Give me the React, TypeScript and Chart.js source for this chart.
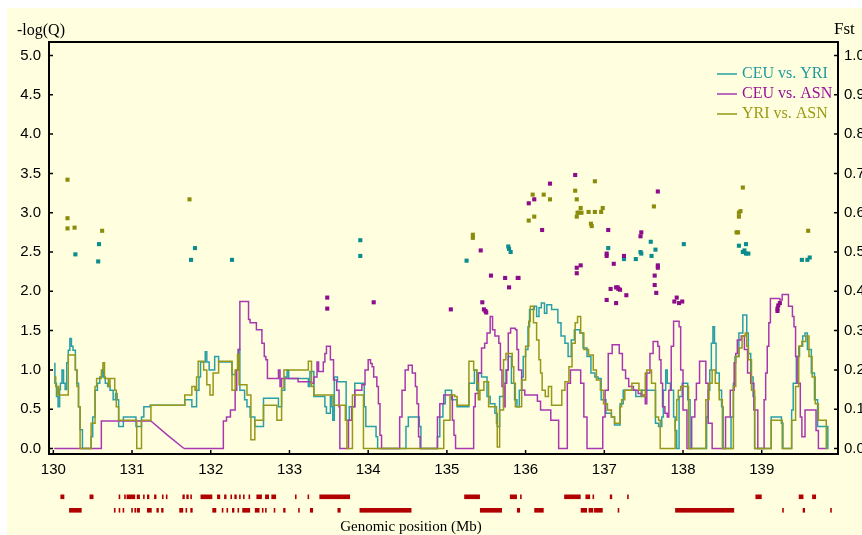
import { useEffect, useRef } from "react";
import { Chart, registerables } from "chart.js";
Chart.register(...registerables);

type P = [number, number | null];

const xTicks = [130, 131, 132, 133, 134, 135, 136, 137, 138, 139];
const leftTicks = [0, 0.5, 1, 1.5, 2, 2.5, 3, 3.5, 4, 4.5, 5];
const rightTicks = [0, 0.1, 0.2, 0.3, 0.4, 0.5, 0.6, 0.7, 0.8, 0.9, 1.0];

const seriesNames = ["CEU vs. YRI", "CEU vs. ASN", "YRI vs. ASN"];

// -log(Q) step lines
const ceuYri: P[] = [
  [130.01,1.08],[130.02,0.83],[130.04,0.66],[130.06,0.53],[130.08,0.75],[130.09,0.83],[130.11,1.0],[130.13,0.83],[130.15,0.75],[130.17,1.09],[130.19,1.25],[130.21,1.40],[130.23,1.30],[130.25,1.25],[130.28,1.0],[130.30,0.83],[130.32,0.53],[130.34,0.24],[130.37,0],
  [130.48,0.15],[130.50,0.40],[130.53,0.74],[130.56,0.83],[130.59,0.91],[130.62,1.0],[130.64,0.91],[130.66,0.83],[130.69,0.79],[130.72,0.74],[130.76,0.62],[130.79,0.70],[130.81,0.62],[130.83,0.28],[130.89,0.40],[131.05,0.28],[131.12,0.40],[131.15,0.53],[131.23,0.55],[131.67,0.62],[131.76,0.53],[131.82,0.74],[131.85,0.91],[131.87,1.10],[131.93,1.23],[131.95,1.10],[131.98,1.0],[132.05,1.17],[132.10,1.10],[132.27,0.94],[132.32,1.0],[132.35,1.26],[132.37,0.74],[132.43,0.62],
  [132.46,0.53],[132.50,0.40],[132.56,0.28],[132.67,0.64],[132.86,0.53],[132.90,0.74],[132.94,0.91],[132.97,1.0],[132.99,0.89],[133.24,0.79],[133.26,0.98],[133.31,0.66],[133.45,0.53],[133.47,0.45],[133.52,0.66],[133.54,0.53],[133.55,0.36],[133.57,0.91],[133.61,0.85],[133.72,0.36],[133.76,0.53],[133.83,0.83],[133.95,0.53],[133.97,0.28],[134.10,0.15],[134.12,0],[134.48,0.28],[134.51,0.40],[134.65,0.28],[134.67,0],[134.88,0.15],[134.91,0.40],[134.95,0.57],
  [134.98,0.74],[135.06,0.62],[135.13,0.53],[135.28,0.83],[135.35,1.0],[135.38,0.74],[135.40,0.96],[135.44,0.91],[135.51,0.66],[135.55,0.57],[135.61,0.45],[135.64,0.28],[135.67,0.66],[135.72,0.83],[135.75,1.0],[135.78,1.17],[135.82,0.83],[135.86,0.62],[135.89,0.53],[135.92,0.74],[135.95,0.91],[135.97,1.17],[136.0,1.26],[136.03,1.55],[136.05,1.77],[136.11,1.81],[136.14,1.68],[136.17,1.79],[136.20,1.85],[136.24,1.72],[136.27,1.83],[136.33,1.77],[136.41,1.60],[136.45,1.43],[136.50,1.34],[136.54,1.17],[136.58,1.38],[136.62,1.51],[136.69,1.47],[136.73,1.28],[136.78,1.17],[136.83,0.96],[136.88,0.91],[136.92,0.89],[136.96,0.62],[137.02,0.45],[137.09,0.40],[137.13,0.30],[137.20,0.57],[137.24,0.74],[137.40,0.66],[137.47,0.74],
  [137.65,0.32],[137.69,0.28],[137.73,0.40],[137.75,0.74],[137.78,1.0],[137.80,0.83],[137.84,0.74],[137.88,0.40],[137.90,0.23],[137.92,0],[137.95,0.66],[137.99,0.83],[138.06,0.62],[138.09,0],[138.30,0.40],[138.32,0.74],[138.34,1.0],[138.36,1.34],[138.38,1.55],[138.40,1.34],[138.42,0.96],[138.46,0.74],[138.49,0.53],[138.51,0],[138.61,0.40],[138.64,0.83],[138.66,1.17],[138.71,1.47],[138.76,1.70],[138.81,1.47],[138.83,1.21],[138.86,0.91],[138.89,0.66],[138.91,0],[139.12,0.40],[139.25,0.32],[139.27,0],[139.38,0.49],[139.40,0.83],[139.44,1.17],[139.48,1.30],[139.52,1.43],[139.55,1.47],[139.58,1.26],[139.63,0.96],[139.67,0.62],[139.71,0.28],[139.84,0],[139.85,0],
];

// CEU vs. ASN: stepped part (null = break where the straight ramp takes over)
const ceuAsn: P[] = [
  [130.01,0],[130.61,0.35],[131.24,0.35],[131.24,null],[131.66,0],
  [132.16,0.35],[132.20,0.40],[132.25,0.49],[132.31,0.74],[132.33,1.0],[132.35,1.26],[132.37,1.87],[132.48,1.64],[132.50,1.60],[132.58,1.51],[132.65,1.34],[132.68,1.17],[132.70,1.13],[132.72,0.89],[132.86,1.0],[132.88,0.79],[132.90,0.89],[133.11,0.85],[133.28,0.83],[133.31,0.91],[133.35,1.10],[133.37,0.98],[133.43,1.10],[133.45,1.21],[133.47,1.30],[133.52,1.13],[133.56,0.87],[133.60,0.74],[133.63,0.53],[133.64,0],
  [133.75,0.36],[133.79,0.53],[133.83,0.74],[133.92,0.81],[133.96,1.0],[134.00,1.13],[134.03,1.08],[134.05,1.04],[134.07,0.91],[134.11,0.79],[134.13,0.57],[134.15,0.17],[134.17,0],[134.40,0.40],[134.43,0.74],[134.47,1.0],[134.51,1.06],[134.56,0.96],[134.60,0.79],[134.62,0.57],[134.64,0.15],[134.66,0],[134.88,0.40],[134.91,0.57],[134.96,0.68],
  [135.07,0.36],[135.09,0.17],[135.11,0],[135.34,0.53],[135.36,0.70],[135.40,0.96],[135.44,1.28],[135.48,1.34],[135.51,1.47],[135.55,1.68],[135.58,1.51],[135.61,1.43],[135.66,1.34],[135.68,1.0],[135.70,0.79],[135.72,0.53],[135.74,0.83],[135.76,1.0],[135.78,1.47],[135.81,1.53],[135.87,1.51],[135.89,1.26],[135.91,1.0],[135.95,0.74],[135.99,0.68],[136.15,0.60],[136.19,0.49],[136.32,0.36],[136.42,0],[136.53,0.83],[136.57,1.0],[136.70,0.83],[136.74,0.40],[136.78,0],[136.98,0.40],[137.01,0.74],[137.05,1.21],[137.10,1.32],[137.19,1.21],[137.23,1.0],[137.27,0.89],[137.31,0.79],[137.37,0.74],[137.43,0.70],[137.47,0.68],
  [137.52,0.57],[137.54,0.96],[137.58,1.21],[137.62,1.36],[137.68,1.30],[137.70,1.13],[137.72,0.83],[137.74,0.53],[137.77,0.45],[137.80,0.40],[137.82,0.74],[137.85,1.30],[137.88,1.62],[137.95,1.55],[137.97,1.0],[138.0,0.49],[138.05,0],[138.11,0.40],[138.15,0.62],[138.17,0.83],[138.21,1.11],[138.29,0.83],[138.32,0.32],[138.37,0],[138.54,0.40],[138.60,0.74],[138.65,1.09],[138.67,1.21],[138.69,1.38],[138.74,1.43],[138.78,1.26],[138.82,0.96],[138.86,0.83],[138.90,0.49],[138.95,0],[139.03,0.62],[139.05,0.96],[139.07,1.30],[139.09,1.60],[139.11,1.91],[139.23,1.89],[139.26,1.96],[139.34,1.81],[139.39,1.68],[139.41,1.55],[139.43,1.17],[139.45,0.83],[139.49,0.40],[139.51,0.15],[139.55,0.49],[139.69,0.23],[139.72,0],[139.83,0],
];
// CEU vs. ASN: straight ramp between the two steps
const ceuAsnRamp: P[] = [[131.24,0.35],[131.45,0.17],[131.66,0]];

const yriAsn: P[] = [
  [130.01,0.91],[130.03,0.79],[130.05,0.68],[130.06,0.79],[130.07,0.68],[130.19,1.19],[130.28,1.0],[130.30,0.79],[130.32,0.53],[130.34,0],[130.48,0.32],[130.53,0.79],[130.55,0.89],[130.61,1.0],[130.63,1.09],[130.65,0.89],[130.70,0.79],[130.72,0.89],[130.78,0.74],[130.80,0.53],[130.83,0.36],[131.06,0],[131.12,0.36],[131.24,0.55],[131.67,0.68],[131.76,0.79],[131.80,0.74],[131.82,0.91],[131.84,1.11],[131.91,1.0],[131.95,0.81],[131.99,0.68],[132.03,0.96],[132.10,1.11],[132.27,0.74],[132.31,1.0],[132.34,1.20],[132.36,0.81],
  [132.46,0.68],[132.51,0.11],[132.56,0.36],[132.67,0.55],[132.84,0.36],[132.90,0.77],[132.93,1.0],[133.24,1.11],[133.28,0.79],[133.31,0.68],[133.56,0.55],[133.71,0.36],[133.73,0],[133.80,0.68],[133.94,0],
  [134.96,0.36],[135.04,0.68],[135.10,0.66],[135.13,0.55],[135.28,1.11],[135.34,1.0],[135.38,0.83],[135.40,0.62],[135.42,0.74],[135.47,0.85],[135.53,0.53],[135.63,0.32],[135.64,0.02],[135.67,0.49],[135.72,1.13],[135.75,1.21],[135.83,1.04],[135.85,0.83],[135.87,0.53],[135.95,0.87],[136.0,1.30],[136.04,1.62],[136.06,1.81],[136.10,1.60],[136.14,1.38],[136.17,1.13],[136.19,0.96],[136.21,0.74],[136.25,0.66],[136.29,0.79],[136.33,0.55],[136.46,0.74],[136.50,0.85],[136.55,1.04],[136.59,1.34],[136.63,1.60],[136.66,1.68],[136.70,1.47],[136.74,1.26],[136.80,1.19],[136.86,1.0],[136.90,0.87],[136.95,0.74],[136.99,0.57],[137.04,0.49],[137.09,0.40],[137.13,0.32],[137.20,0.53],[137.22,0.62],[137.26,0.74],[137.35,0.83],[137.44,0.74],[137.48,0.66],
  [137.52,0.96],[137.54,1.0],[137.60,0.83],[137.65,0.40],[137.69,0.36],[137.71,0],[137.90,0.36],[137.92,0.62],[137.94,0.74],[137.97,0.79],[138.07,0],[138.29,0.62],[138.33,0.83],[138.37,1.0],[138.41,0.83],[138.46,0.62],[138.50,0],[138.64,0.79],[138.67,1.17],[138.71,1.28],[138.75,1.43],[138.79,1.47],[138.81,1.30],[138.83,1.13],[138.87,0.74],[138.91,0],[139.12,0.36],[139.26,0],[139.38,0.36],[139.43,0.79],[139.47,1.30],[139.51,1.36],[139.56,1.43],[139.60,1.17],[139.64,0.91],[139.68,0.57],[139.72,0.36],[139.82,0],[139.83,0],
];

// Fst outliers (plotted on the -log(Q) scale, 5x Fst)
const ceuYriPts: P[] = [
  [130.28,2.47],[130.58,2.60],[130.57,2.38],[131.80,2.55],[131.75,2.40],[132.27,2.40],[133.90,2.65],[133.90,2.45],[135.25,2.39],[135.78,2.57],[135.79,2.54],[135.81,2.50],[137.05,2.55],[137.25,2.41],[137.40,2.41],[137.46,2.50],[137.47,2.48],[137.59,2.63],[137.60,2.45],[137.65,2.53],[138.01,2.60],[138.71,2.58],[138.80,2.60],[138.76,2.50],[138.80,2.48],[138.83,2.48],[138.78,2.52],[139.51,2.40],[139.58,2.40],[139.61,2.43],
];
const ceuAsnPts: P[] = [
  [133.48,1.92],[133.48,1.78],[134.07,1.86],[135.05,1.77],[135.43,2.52],[135.45,1.86],[135.47,1.77],[135.49,1.75],[135.50,1.73],[135.56,2.20],[135.74,2.17],[135.79,2.05],[135.90,2.17],[135.91,2.17],[136.04,3.12],[136.11,3.17],[136.31,3.37],[136.21,2.78],[136.63,3.48],[136.65,2.30],[136.70,2.33],[136.65,2.23],[137.05,2.78],[137.03,2.48],[137.03,2.45],[137.12,2.35],[137.08,2.03],[137.15,2.05],[137.17,2.05],[137.18,2.03],[137.20,2.02],[137.28,1.95],[137.03,1.89],[137.15,1.85],[137.25,2.45],[137.46,2.70],[137.47,2.75],[137.68,3.27],[137.68,2.33],[137.68,2.30],[137.64,2.20],[137.64,2.08],[137.66,1.98],[137.89,1.87],[137.92,1.92],[137.95,1.85],[137.99,1.87],[139.20,1.75],[139.20,1.78],[139.21,1.82],[139.23,1.85],
];
const yriAsnPts: P[] = [
  [130.18,3.42],[130.18,2.93],[130.18,2.80],[130.27,2.81],[130.62,2.77],[131.73,3.17],[135.33,2.72],[135.33,2.68],[136.04,2.90],[136.11,2.95],[136.09,3.23],[136.23,3.23],[136.31,3.17],[136.63,3.28],[136.65,3.17],[136.65,2.95],[136.66,3.0],[136.68,3.0],[136.70,3.06],[136.71,3.0],[136.80,3.01],[136.88,3.01],[136.96,3.01],[136.98,3.06],[136.88,3.40],[136.83,2.86],[136.84,2.83],[137.63,3.08],[138.76,3.32],[138.71,3.0],[138.73,3.02],[138.71,2.95],[138.68,2.75],[138.70,2.75],[139.59,2.77],
];

// gene tracks (start, end in Mb)
const genesRow1: [number, number][] = [
  [130.09,130.14],[130.46,130.51],[130.83,130.85],[130.90,130.92],[130.93,131.04],[131.06,131.10],[131.14,131.16],[131.19,131.22],[131.28,131.31],[131.38,131.40],[131.43,131.45],[131.64,131.67],[131.69,131.72],[131.74,131.76],[131.87,132.02],[132.08,132.12],[132.17,132.20],[132.25,132.27],[132.30,132.33],[132.36,132.38],[132.41,132.43],[132.48,132.50],[132.58,132.65],[132.69,132.74],[132.77,132.83],[133.07,133.09],[133.23,133.25],[133.38,133.77],
  [135.22,135.42],[135.80,135.89],[135.93,135.95],[136.49,136.70],[136.76,136.82],[136.85,136.87],[137.07,137.10],[137.29,137.31],[138.92,139.0],[139.47,139.53],[139.64,139.69],
];
const genesRow2: [number, number][] = [
  [130.20,130.36],[130.77,130.79],[130.83,130.85],[130.88,130.90],[130.99,131.00],[131.03,131.04],[131.06,131.10],[131.19,131.25],[131.31,131.34],[131.37,131.40],[131.60,131.65],[131.68,131.70],[131.74,131.77],[132.02,132.07],[132.14,132.16],[132.20,132.22],[132.27,132.30],[132.34,132.36],[132.40,132.50],[132.56,132.62],[132.65,132.67],[132.69,132.71],[132.80,132.81],[132.92,132.95],[133.11,133.13],[133.26,133.30],[133.61,133.65],[133.89,134.55],
  [135.42,135.70],[135.89,135.93],[136.11,136.23],[136.70,136.78],[136.80,136.86],[136.87,136.98],[137.17,137.19],[137.90,138.65],[139.26,139.27],[139.52,139.55],[139.87,139.89],
];

const BG = "#ffffe0";
const lineColors = ["#2a9fa6", "#a838b0", "#97971a"];
const dotColors = ["#0c8c8c", "#8c0c8c", "#8c8c0c"];
const textColors = ["#1f9a9a", "#9a109a", "#9a9a14"];
const SERIF = "'Liberation Serif', 'Times New Roman', serif";
const SANS = "'Liberation Sans', Arial, sans-serif";

const toXY = (arr: P[]) => arr.map(([x, y]) => ({ x, y }));

const decor = {
  id: "decor",
  beforeDraw(chart: any) {
    const { ctx, width, height } = chart;
    ctx.save();
    ctx.fillStyle = "#ffffff";
    ctx.fillRect(0, 0, width, height);
    ctx.fillStyle = BG;
    ctx.fillRect(7, 8, width - 7, height - 8);
    ctx.restore();
  },
  afterDraw(chart: any) {
    const { ctx, chartArea: a, scales } = chart;
    ctx.save();
    ctx.strokeStyle = "#000";
    ctx.lineWidth = 2;
    ctx.strokeRect(a.left, a.top, a.right - a.left, a.bottom - a.top);
    ctx.lineWidth = 1.5;
    ctx.beginPath();
    xTicks.forEach((v) => {
      const px = scales.x.getPixelForValue(v);
      ctx.moveTo(px, a.bottom);
      ctx.lineTo(px, a.bottom - 4);
    });
    leftTicks.forEach((v) => {
      const py = scales.y.getPixelForValue(v);
      ctx.moveTo(a.left, py);
      ctx.lineTo(a.left + 4, py);
    });
    rightTicks.forEach((v) => {
      const py = scales.y2.getPixelForValue(v);
      ctx.moveTo(a.right, py);
      ctx.lineTo(a.right - 4, py);
    });
    ctx.stroke();

    // axis titles
    ctx.fillStyle = "#000";
    ctx.textBaseline = "middle";
    ctx.font = `16px ${SERIF}`;
    ctx.textAlign = "left";
    ctx.fillText("-log(Q)", 17, 31);
    ctx.font = `17px ${SERIF}`;
    ctx.fillText("Fst", 834, 30);
    ctx.font = `15px ${SERIF}`;
    ctx.textAlign = "center";
    ctx.fillText("Genomic position (Mb)", 411, 527);

    // legend
    ctx.font = `16px ${SERIF}`;
    ctx.textAlign = "left";
    seriesNames.forEach((name, i) => {
      const y = 74 + i * 20;
      ctx.strokeStyle = lineColors[i];
      ctx.lineWidth = 1.5;
      ctx.beginPath();
      ctx.moveTo(717, y);
      ctx.lineTo(737, y);
      ctx.stroke();
      ctx.fillStyle = textColors[i];
      ctx.fillText(name, 742, y);
    });

    // gene tracks
    ctx.fillStyle = "#b00000";
    const drawRow = (rows: [number, number][], top: number) => {
      rows.forEach(([s, e]) => {
        const x0 = scales.x.getPixelForValue(s);
        const x1 = scales.x.getPixelForValue(e);
        ctx.fillRect(x0, top, Math.max(x1 - x0, 1.6), 4.6);
      });
    };
    drawRow(genesRow1, a.bottom + 40.5);
    drawRow(genesRow2, a.bottom + 54);
    ctx.restore();
  },
};

export default function App() {
  const ref = useRef<HTMLCanvasElement>(null);
  useEffect(() => {
    const yMin = -0.07;
    const yMax = 5.172;
    const lineDs = (data: P[], i: number, stepped = true) => ({
      type: "line" as const,
      label: seriesNames[i],
      data: toXY(data),
      borderColor: lineColors[i],
      backgroundColor: lineColors[i],
      borderWidth: 1.5,
      pointRadius: 0,
      stepped,
      spanGaps: false,
      fill: false,
      yAxisID: "y",
    });
    const dotDs = (data: P[], i: number) => ({
      type: "line" as const,
      label: seriesNames[i] + " outliers",
      data: toXY(data),
      showLine: false,
      pointStyle: "rect",
      pointRadius: 2.9,
      pointBorderWidth: 0,
      pointBackgroundColor: dotColors[i],
      borderColor: dotColors[i],
      yAxisID: "y",
    });
    const chart = new Chart(ref.current as HTMLCanvasElement, {
      type: "line",
      data: {
        datasets: [
          dotDs(yriAsnPts, 2),
          dotDs(ceuAsnPts, 1),
          dotDs(ceuYriPts, 0),
          lineDs(yriAsn, 2),
          lineDs(ceuAsn, 1),
          lineDs(ceuAsnRamp, 1, false),
          lineDs(ceuYri, 0),
        ] as any,
      },
      options: {
        responsive: false,
        devicePixelRatio: 1,
        animation: false,
        events: [],
        layout: { padding: { left: 0, right: 0, top: 42, bottom: 0 } },
        plugins: { legend: { display: false }, tooltip: { enabled: false } },
        scales: {
          x: {
            type: "linear",
            min: 129.945,
            max: 139.969,
            grid: { display: false, drawTicks: false },
            border: { display: false },
            afterBuildTicks: (s: any) => {
              s.ticks = xTicks.map((v) => ({ value: v }));
            },
            afterFit: (s: any) => {
              s.height = 81;
            },
            ticks: {
              color: "#000",
              font: { family: SANS, size: 15 },
              padding: 7,
              maxRotation: 0,
              autoSkip: false,
              callback: (v: any) => String(v),
            },
          },
          y: {
            type: "linear",
            position: "left",
            min: yMin,
            max: yMax,
            grid: { display: false, drawTicks: false },
            border: { display: false },
            afterBuildTicks: (s: any) => {
              s.ticks = leftTicks.map((v) => ({ value: v }));
            },
            afterFit: (s: any) => {
              s.width = 49;
            },
            ticks: {
              color: "#000",
              font: { family: SANS, size: 15 },
              padding: 8,
              callback: (v: any) => Number(v).toFixed(1),
            },
          },
          y2: {
            type: "linear",
            position: "right",
            min: yMin / 5,
            max: yMax / 5,
            grid: { display: false, drawTicks: false },
            border: { display: false },
            afterBuildTicks: (s: any) => {
              s.ticks = rightTicks.map((v) => ({ value: v }));
            },
            afterFit: (s: any) => {
              s.width = 24;
            },
            ticks: {
              color: "#000",
              font: { family: SANS, size: 15 },
              padding: 6,
              callback: (v: any) => Number(v).toFixed(1),
            },
          },
        },
      },
      plugins: [decor],
    } as any);
    return () => chart.destroy();
  }, []);
  return (
    <div style={{ position: "fixed", left: 0, top: 0, width: 862, height: 535, background: "#fff" }}>
      <canvas ref={ref} width={862} height={535} style={{ display: "block", width: 862, height: 535 }} />
    </div>
  );
}
